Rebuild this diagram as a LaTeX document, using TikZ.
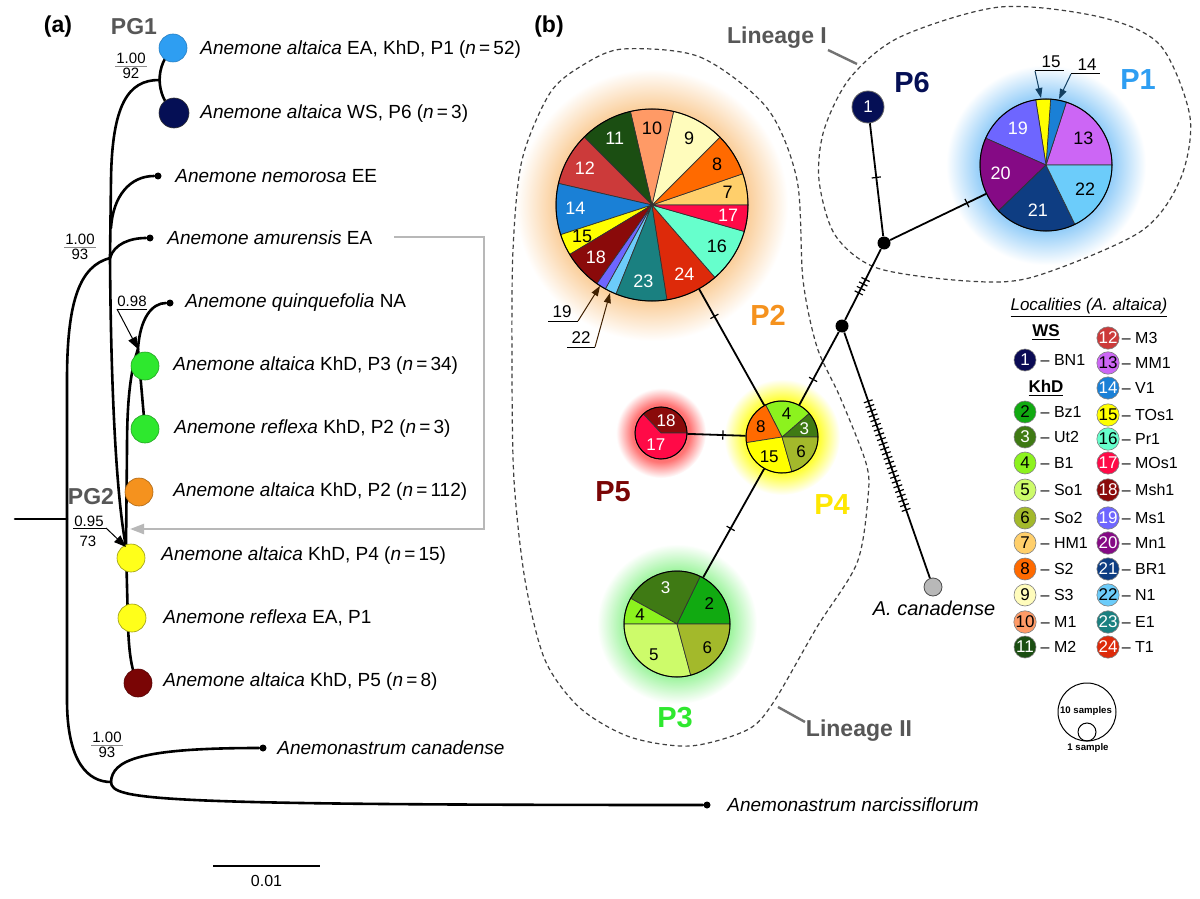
\documentclass[tikz,border=0pt]{standalone}
\usepackage{fontspec}
\setmainfont{Liberation Sans}
\usetikzlibrary{positioning,calc,arrows.meta,decorations.markings}
\tikzset{>=stealth}

% locality colours
\definecolor{loc1}{HTML}{0B0B55}
\definecolor{loc2}{HTML}{11AA11}
\definecolor{loc3}{HTML}{3F7A14}
\definecolor{loc4}{HTML}{8CF21E}
\definecolor{loc5}{HTML}{CDFB6A}
\definecolor{loc6}{HTML}{A3B92B}
\definecolor{loc7}{HTML}{FFCF6B}
\definecolor{loc8}{HTML}{FF6A00}
\definecolor{loc9}{HTML}{FFFCBC}
\definecolor{loc10}{HTML}{FF9A66}
\definecolor{loc11}{HTML}{1B4E12}
\definecolor{loc12}{HTML}{CC3A3A}
\definecolor{loc13}{HTML}{CC66F5}
\definecolor{loc14}{HTML}{1A80D6}
\definecolor{loc15}{HTML}{FFFF00}
\definecolor{loc16}{HTML}{66FFCC}
\definecolor{loc17}{HTML}{FF0A47}
\definecolor{loc18}{HTML}{8A0A0A}
\definecolor{loc19}{HTML}{6E66FF}
\definecolor{loc20}{HTML}{850A85}
\definecolor{loc21}{HTML}{0E3D82}
\definecolor{loc22}{HTML}{6CCCFA}
\definecolor{loc23}{HTML}{1A8080}
\definecolor{loc24}{HTML}{DD2A0A}
% haplogroup colours
\definecolor{hP1}{HTML}{2E9EF2}
\definecolor{hP2}{HTML}{F5921E}
\definecolor{hP3}{HTML}{2EE82E}
\definecolor{hP4}{HTML}{FFFF1A}
\definecolor{hP5}{HTML}{7A0505}
\definecolor{hP6}{HTML}{050F55}
\definecolor{lin}{HTML}{575757}

\colorlet{glowc}{white}
\pgfdeclareradialshading[glowc]{glow}{\pgfpoint{0bp}{0bp}}{color(0bp)=(glowc); color(16bp)=(glowc); color(25bp)=(white); color(50bp)=(white)}
\newcommand\glow[3]{\colorlet{glowc}{#3}\shade[shading=glow] (#1) circle[radius=#2];}

% pie slice: centre, radius, from, to, fill, label, label colour
\def\lblf{0.8}
\def\pnsz{9}
\newcommand\slc[7]{%
  \filldraw[fill=#5,draw=black!80,line width=.35pt] (#1) -- ++(-#3:#2) arc[start angle=-#3,end angle=-#4,radius=#2] -- cycle;
  \node[inner sep=0,text=#7,font=\fontsize{\pnsz}{10}\selectfont] at ($(#1)+({-(#3+#4)/2}:{\lblf*#2})$) {#6};}

% support values: name, x, y, top, bottom
\newcommand\supv[5]{%
  \node[supp,anchor=south] (#1t) at (#2,#3) {#4};
  \draw[supline] ($(#2,#3)+(-16,0)$) -- ($(#2,#3)+(16,0)$);
  \node[supp,anchor=north] (#1b) at (#2,#3) {#5};}

\tikzset{
  br/.style={line width=1.3pt,line cap=round},
  tdot/.style={circle,fill=black,inner sep=0,minimum size=3.5pt},
  tcirc/.style={circle,draw=black!55,line width=.3pt,inner sep=0,minimum size=14pt},
  tax/.style={anchor=west,inner sep=0,font=\fontsize{9.5}{11}\selectfont},
  supp/.style={inner sep=1pt,font=\fontsize{7.5}{9}\selectfont},
  supline/.style={draw=black!45,line width=.4pt},
  sarrow/.style={line width=.5pt,-{Triangle[length=6pt,width=4.5pt]}},
  garrow/.style={draw=black!28,line width=1.1pt,-{Triangle[length=7pt,width=5pt]}},
  pg/.style={font=\fontsize{11.5}{13}\selectfont\bfseries,text=lin},
  panel/.style={font=\fontsize{11.5}{13}\selectfont\bfseries},
  plab/.style={font=\fontsize{14.5}{16}\selectfont\bfseries},
  linlab/.style={font=\fontsize{11.5}{13}\selectfont\bfseries,text=lin},
  pointer/.style={draw=black!55,line width=1.2pt},
  lineage/.style={draw=black!75,line width=.6pt,dash pattern=on 2.2pt off 1.6pt},
  hap/.style={circle,inner sep=0},
  jdot/.style={circle,fill=black,inner sep=0,minimum size=6.5pt},
  net/.style={line width=.9pt},
  mut/.style={postaction={decorate,decoration={markings,mark=at position #1 with {\draw[line width=.6pt] (0,-2.3pt) -- (0,2.3pt);}}}},
  muts/.style n args={3}{postaction={decorate,decoration={markings,mark=between positions #1 and #2 step #3 with {\draw[line width=.6pt] (0,-2.3pt) -- (0,2.3pt);}}}},
  call/.style={inner sep=0,font=\fontsize{8.5}{10}\selectfont},
  callarrow/.style={line width=.5pt,-{Triangle[length=5pt,width=3.5pt]}},
  loccirc/.style={circle,draw=black!50,line width=.3pt,inner sep=0,minimum size=11pt,font=\fontsize{8.5}{9}\selectfont},
  legtext/.style={inner sep=0,font=\fontsize{8}{10}\selectfont}
}

\begin{document}
\begin{tikzpicture}[x=0.5pt,y=-0.5pt]
\useasboundingbox[fill=white] (0,0) rectangle (1200,899);

% ---------------- (a) tree
\node[panel] (la) at (58,27) {(a)};
\node[pg] (pg1) at (134,27) {PG1};
\node[pg] (pg2) at (91,497) {PG2};

\coordinate (root) at (15,519);
\coordinate (nR) at (67,519);
\coordinate (nA) at (110,258);
\coordinate (nNem) at (111,228);
\coordinate (nPG1) at (159,80);
\coordinate (nB) at (138,349);
\coordinate (nC) at (126,547);
\coordinate (nO) at (111,782);
\coordinate (aP1) at (173,48);
\coordinate (aP6) at (174,113);
\coordinate (aP3) at (145,366);
\coordinate (aRK) at (145,429);
\coordinate (aP2) at (139,492);
\coordinate (aP4) at (131,558);
\coordinate (aRE) at (132,618);
\coordinate (aP5) at (138,683);

\node[tdot] (tnem) at (158,176) {};
\node[tdot] (tamu) at (150,238) {};
\node[tdot] (tqui) at (170,303) {};
\node[tdot] (tcan) at (263,748) {};
\node[tdot] (tnar) at (707,805) {};

\draw[br] (root) -- (nR);
\draw[br] (nA) .. controls (80,266) and (67,300) .. (67,380) -- (67,700) .. controls (67,762) and (88,782) .. (nO);
\draw[br] (nA) -- (111,180) .. controls (112,105) and (128,80) .. (nPG1);
\draw[br] (aP1) .. controls (155,66) and (155,94) .. (aP6);
\draw[br] (nNem) .. controls (113,196) and (130,176) .. (tnem);
\draw[br] (nA) .. controls (114,244) and (130,238) .. (tamu);
\draw[br] (nA) .. controls (111,400) and (117,500) .. (nC);
\draw[br] (nB) .. controls (140,318) and (152,303) .. (tqui);
\draw[br] (nB) -- (aRK);
\draw[br] (nB) .. controls (129,375) and (127,410) .. (127,450) -- (nC);
\draw[br] (nC) -- (128,625) .. controls (129,655) and (132,672) .. (aP5);
\draw[br] (nO) .. controls (112,760) and (140,748) .. (tcan);
\draw[br] (nO) .. controls (112,800) and (150,805) .. (tnar);

% amurensis pointer
\coordinate (gA) at (394,237);
\coordinate (gB) at (484,237);
\coordinate (gC) at (484,529);
\coordinate (gD) at (130,529);
\draw[garrow] (gA) -- (gB) -- (gC) -- (gD);

\node[tcirc,fill=hP1,draw=hP1!80!black] (tP1) at (aP1) {};
\node[tcirc,fill=hP6,minimum size=15pt,draw=black!80] (tP6) at (aP6) {};
\node[tcirc,fill=hP3,draw=hP3!70!black] (tP3) at (aP3) {};
\node[tcirc,fill=hP3,draw=hP3!70!black] (tRK) at (aRK) {};
\node[tcirc,fill=hP2,draw=hP2!70!black] (tP2) at (aP2) {};
\node[tcirc,fill=hP4,draw=hP4!60!black] (tP4) at (aP4) {};
\node[tcirc,fill=hP4,draw=hP4!60!black] (tRE) at (aRE) {};
\node[tcirc,fill=hP5,draw=hP5!70!black] (tP5) at (aP5) {};

\supv{sPG1}{131}{66}{1.00}{92}
\supv{sA}{80}{247}{1.00}{93}
\supv{sO}{107}{745}{1.00}{93}

\node[supp] (s098) at (132,301) {0.98};
\coordinate (u098) at (117,309);
\draw[line width=.5pt] (u098) -- (147,309);
\draw[sarrow] (u098) -- (nB);
\node[supp] (s095) at (89,521) {0.95};
\coordinate (u095) at (106,528);
\draw[line width=.5pt] (73,528) -- (u095);
\draw[sarrow] (u095) -- (nC);
\node[supp] (s73) at (88,541) {73};

\node[tax] (lP1) at (200,50) {\textit{Anemone altaica} EA, KhD, P1 (\textit{n}\,=\,52)};
\node[tax] (lP6) at (200,114) {\textit{Anemone altaica} WS, P6 (\textit{n}\,=\,3)};
\node[tax] (lnem) at (175,176) {\textit{Anemone nemorosa} EE};
\node[tax] (lamu) at (167,238) {\textit{Anemone amurensis} EA};
\node[tax] (lqui) at (185,303) {\textit{Anemone quinquefolia} NA};
\node[tax] (lP3) at (173,366) {\textit{Anemone altaica} KhD, P3 (\textit{n}\,=\,34)};
\node[tax] (lRK) at (174,429) {\textit{Anemone reflexa} KhD, P2 (\textit{n}\,=\,3)};
\node[tax] (lP2) at (173,492) {\textit{Anemone altaica} KhD, P2 (\textit{n}\,=\,112)};
\node[tax] (lP4) at (161,556) {\textit{Anemone altaica} KhD, P4 (\textit{n}\,=\,15)};
\node[tax] (lRE) at (163,618) {\textit{Anemone reflexa} EA, P1};
\node[tax] (lP5) at (163,682) {\textit{Anemone altaica} KhD, P5 (\textit{n}\,=\,8)};
\node[tax] (lcan) at (277,748) {\textit{Anemonastrum canadense}};
\node[tax] (lnar) at (727,805) {\textit{Anemonastrum narcissiflorum}};

% scale bar
\coordinate (sc1) at (213,866);
\coordinate (sc2) at (320,866);
\draw[line width=1.2pt] (sc1) -- node[below=4pt,inner sep=0,font=\fontsize{8}{10}\selectfont] (sclab) {0.01} (sc2);

% ---------------- (b) network
\node[panel] (lb) at (549,27) {(b)};

\coordinate (bP2) at (652,205);
\coordinate (bP1) at (1046,165);
\coordinate (bP4) at (782,437);
\coordinate (bP5) at (661,433);
\coordinate (bP3) at (677,624);

\glow{bP2}{136}{hP2!55}
\glow{bP1}{100}{hP1!55}
\glow{bP4}{58}{yellow!80}
\glow{bP5}{45}{red!55}
\glow{bP3}{80}{hP3!50}

\draw[lineage] plot[smooth cycle] coordinates {(1000,7) (1100,17) (1160,45) (1190,117) (1180,180) (1140,232) (1033,277) (967,281) (877,268) (835,235) (819,180) (824,130) (850,78) (900,37)};
\draw[lineage] plot[smooth cycle] coordinates {(623,49) (700,57) (767,108) (797,180) (803,280) (817,347) (840,397) (866,463) (868,497) (857,563) (817,627) (773,703) (747,730) (690,746) (630,737) (580,708) (545,660) (525,580) (514,480) (512,370) (513,250) (522,160) (550,93) (583,65)};

\node[linlab] (linI) at (777,38) {Lineage I};
\coordinate (pI1) at (828,50);
\coordinate (pI2) at (857,64);
\draw[pointer] (pI1) -- (pI2);
\node[linlab] (linII) at (859,731) {Lineage II};
\coordinate (pII1) at (778,707);
\coordinate (pII2) at (805,722);
\draw[pointer] (pII1) -- (pII2);

\node[hap,minimum size=96pt] (pieP2) at (bP2) {};
\node[hap,minimum size=66pt] (pieP1) at (bP1) {};
\node[hap,minimum size=36pt] (pieP4) at (bP4) {};
\node[hap,minimum size=26pt] (pieP5) at (bP5) {};
\node[hap,minimum size=53pt] (pieP3) at (bP3) {};
\node[hap,fill=hP6,draw=black!60,minimum size=16pt,text=white,font=\fontsize{8.5}{9}\selectfont] (hapP6) at (868,107) {1};
\node[jdot] (J1) at (884,243) {};
\node[jdot] (J2) at (842,326) {};
\node[hap,fill=black!28,draw=black!70,line width=.4pt,minimum size=9pt] (canad) at (933,587) {};
\node[inner sep=0,font=\fontsize{10}{12}\selectfont\itshape] (lcanad) at (934,608) {A. canadense};

\draw[net,mut=0.48] (hapP6) -- (J1);
\draw[net,mut=0.8] (J1) -- (pieP1);
\draw[net,muts={0.43}{0.62}{2.5pt}] (J1) -- (J2);
\draw[net,mut=0.65] (J2) -- (pieP4);
\draw[net,muts={0.28}{0.74}{2.5pt}] (J2) -- (canad);
\draw[net,mut=0.235] (pieP2) -- (pieP4);
\draw[net,mut=0.61] (pieP5) -- (pieP4);
\draw[net,mut=0.55] (pieP4) -- (pieP3);

% P2 pie
\foreach \fa/\fb/\col/\lab/\tcol in {0/19/7/7/black, 19/45/8/8/black, 45/77/9/9/black, 77/103/10/10/black,
  103/135/11/11/white, 135/167/12/12/white, 167/198/14/14/white, 198/211/15/15/black,
  211/235/18/18/white, 235/241/19/{}/black, 241/248/22/{}/black, 248/279/23/23/white,
  279/311/24/24/white, 311/344/16/16/black, 344/360/17/17/white}
  {\slc{bP2}{96}{\fa}{\fb}{loc\col}{\lab}{\tcol}}
\draw[line width=.5pt] (bP2) circle[radius=96];

% P1 pie
\def\lblf{0.7}
\foreach \fa/\fb/\col/\lab/\tcol in {0/72/13/13/black, 72/86/14/{}/black, 86/99/15/{}/black,
  99/156/19/19/white, 156/224/20/20/white, 224/296/21/21/white, 296/360/22/22/black}
  {\slc{bP1}{66}{\fa}{\fb}{loc\col}{\lab}{\tcol}}
\draw[line width=.5pt] (bP1) circle[radius=66];

% P4 pie
\def\lblf{0.66}
\def\pnsz{8.5}
\foreach \fa/\fb/\col/\lab/\tcol in {0/41/3/3/white, 41/117/4/4/black, 117/189/8/8/black,
  189/286/15/15/black, 286/360/6/6/black}
  {\slc{bP4}{36}{\fa}{\fb}{loc\col}{\lab}{\tcol}}
\draw[line width=.5pt] (bP4) circle[radius=36];

% P5 pie
\def\lblf{0.5}
\foreach \fa/\fb/\col/\lab/\tcol in {0/133/18/18/white, 133/360/17/17/white}
  {\slc{bP5}{26}{\fa}{\fb}{loc\col}{\lab}{\tcol}}
\draw[line width=.5pt] (bP5) circle[radius=26];

% P3 pie
\def\lblf{0.72}
\foreach \fa/\fb/\col/\lab/\tcol in {0/64/2/2/black, 64/151/3/3/white, 151/180/4/4/black,
  180/285/5/5/black, 285/360/6/6/black}
  {\slc{bP3}{53}{\fa}{\fb}{loc\col}{\lab}{\tcol}}
\draw[line width=.5pt] (bP3) circle[radius=53];

% small slices pointed out
\node[call] (c19) at (562,312) {19};
\coordinate (u19a) at (548,321);
\coordinate (u19b) at (578,321);
\coordinate (t19) at (600,286);
\draw[line width=.5pt] (u19a) -- (u19b);
\draw[callarrow,draw=black!75!orange] (u19b) -- (t19);
\node[call] (c22) at (581,338) {22};
\coordinate (u22a) at (567,347);
\coordinate (u22b) at (595,347);
\coordinate (t22) at (610,293);
\draw[line width=.5pt] (u22a) -- (u22b);
\draw[callarrow,draw=black!75!orange] (u22b) -- (t22);
\node[call] (c15) at (1051,62) {15};
\coordinate (u15a) at (1035,71);
\coordinate (u15b) at (1064,71);
\coordinate (t15) at (1041,98);
\draw[line width=.5pt] (u15a) -- (u15b);
\draw[callarrow,draw=black!60!hP1] (u15a) -- (t15);
\node[call] (c14) at (1087,65) {14};
\coordinate (u14a) at (1071,74);
\coordinate (u14b) at (1100,74);
\coordinate (t14) at (1059,99);
\draw[line width=.5pt] (u14a) -- (u14b);
\draw[callarrow,draw=black!60!hP1] (u14a) -- (t14);

% group labels
\node[plab,text=hP6] (gP6) at (912,83) {P6};
\node[plab,text=hP1] (gP1) at (1138,80) {P1};
\node[plab,text=hP2] (gP2) at (768,315) {P2};
\node[plab,text=yellow!90!orange] (gP4) at (832,505) {P4};
\node[plab,text=hP5] (gP5) at (613,492) {P5};
\node[plab,text=hP3] (gP3) at (675,718) {P3};

% ---------------- legend
\node[inner sep=0,font=\fontsize{8.5}{10}\selectfont\itshape] (legt) at (1089,308) {\underline{Localities (A. altaica)}};
\node[inner sep=0,font=\fontsize{8.5}{10}\selectfont\bfseries] (legWS) at (1046,333) {\underline{WS}};
\node[inner sep=0,font=\fontsize{8.5}{10}\selectfont\bfseries] (legKhD) at (1046,388) {\underline{KhD}};
\foreach \n/\yy/\loc/\tcol in {1/360/BN1/white, 2/412/Bz1/black, 3/437/Ut2/white, 4/463/B1/black,
  5/490/So1/black, 6/518/So2/black, 7/543/HM1/black, 8/569/S2/black, 9/595/S3/black,
  10/622/M1/black, 11/647/M2/white}
  {\node[loccirc,fill=loc\n,text=\tcol] (lg\n) at (1025,\yy) {\n};
   \node[legtext,right=2pt of lg\n] (lt\n) {-- \loc};}
\foreach \n/\yy/\loc/\tcol in {12/338/M3/white, 13/363/MM1/black, 14/388/V1/white, 15/415/TOs1/black,
  16/439/Pr1/black, 17/463/MOs1/white, 18/490/Msh1/white, 19/518/Ms1/white, 20/543/Mn1/white,
  21/569/BR1/white, 22/595/N1/black, 23/622/E1/white, 24/647/T1/white}
  {\node[loccirc,fill=loc\n,text=\tcol] (lg\n) at (1108,\yy) {\n};
   \node[legtext,right=1pt of lg\n] (lt\n) {-- \loc};}

% sample size key
\node[circle,draw,line width=.5pt,inner sep=0,minimum size=29pt] (key10) at (1087,712) {};
\node[circle,draw,line width=.5pt,inner sep=0,minimum size=9pt] (key1) at (1087,732) {};
\node[inner sep=0,font=\fontsize{4.8}{5}\selectfont\bfseries] (k10) at (1086,711) {10 samples};
\node[inner sep=0,font=\fontsize{4.8}{5}\selectfont\bfseries] (k1) at (1088,748) {1 sample};
\end{tikzpicture}
\end{document}
